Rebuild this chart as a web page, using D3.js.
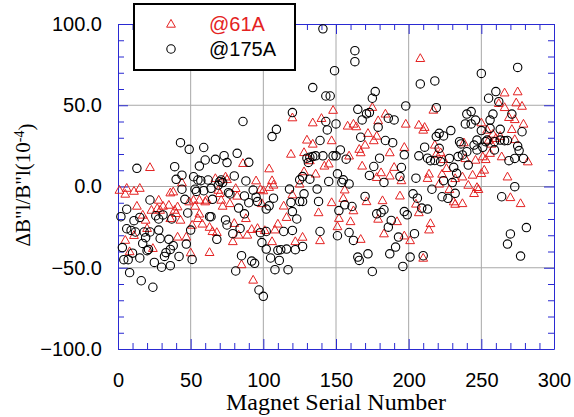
<!DOCTYPE html>
<html>
<head>
<meta charset="utf-8">
<script src="https://cdn.jsdelivr.net/npm/d3@7"></script>
<style>
  body { margin: 0; background: #fff; }
  svg text { font-family: "Liberation Sans", Arial, sans-serif; }
</style>
</head>
<body>
<svg id="chart" width="574" height="417"></svg>
<script>
// ---- data (serial number, deviation in 1e-4) ----
const serial61 = [1,5,5,6,8,11,11,13,15,17,19,20,22,23,24,27,28,29,31,35,36,36,38,39,40,41,41,43,44,47,49,50,51,52,53,55,56,56,58,60,61,63,63,65,67,68,69,70,71,72,74,75,77,79,80,81,82,83,85,86,88,89,92,93,95,96,98,99,
  100,101,104,104,106,106,107,108,110,114,116,119,120,120,122,125,127,128,128,130,132,134,134,136,138,139,140,142,145,147,147,148,
  151,152,155,156,158,159,160,162,162,164,166,167,167,168,170,171,172,175,176,178,178,179,179,181,182,183,184,187,187,190,192,194,195,197,197,198,
  201,205,207,207,208,210,210,211,213,214,214,215,217,218,219,221,222,223,224,226,228,231,232,232,237,237,238,239,241,244,245,246,247,248,250,250,
  251,252,253,254,255,256,257,258,260,262,263,264,266,266,268,269,270,271,273,273,274,275,277,278,279,282];
const dev61 = [-2.2,-4.6,-33,-1,-40,-2.8,-30,-12,-1,-17.5,-20.6,-25.7,11.8,-14.5,-38,-13.4,-8.3,-14.5,-12,-11.4,-19.6,-3.8,-3.2,-14.5,-16.5,-12.4,-31,-20.6,2.4,-31,-9.3,-40.7,-23.7,-8.3,-12,-19.6,-16.8,-8.3,-23,-9.3,-8.3,-40.5,-25,-27.6,5,-28.2,-2.2,-4.2,-8.3,-12,6,4.4,-10.4,-33.8,-22.6,-1.1,-5.8,-29.8,-48,14.3,-19.6,-29.8,-26.3,-57.5,3.6,-25.7,-1.7,-10.4,
  -2.5,-27,11,-0.4,-33.8,3.7,1,-26.6,-23,-11.9,-18.9,20,42.4,-5,-33.8,1.6,-31.1,21,9.2,28.7,16,26.2,39.3,7.8,-16,-33.2,42,12.7,14,28.3,-9.8,47,
  -24.6,-19.5,-7.2,-2,37.3,18.9,-21.5,-14.8,38.5,36.9,23,-32.4,20.9,12.7,25.6,-9.2,32.8,48.8,28.3,31.1,5.7,-20,40.6,8.6,-8.6,-29,44.7,20.9,6.6,11.9,-21.5,-5.7,3.7,24.2,-30.3,38.5,
  -33.2,-10.7,-16,37.9,78.9,34.8,-44,36.5,5.1,7.8,-26.6,-22.7,47.1,25.6,20,1.6,20.9,7.7,16.7,11.2,-1.7,-9.3,-10.8,5,6,-10.4,27,17.3,0.9,7.1,-4.2,16.3,-0.5,-1.7,8.1,39.3,
  18.4,10.2,16.7,34.8,28.6,20.5,26.2,32.3,29.7,51.2,31,18.4,57.7,48.7,6,42.6,-6.7,35.2,29,41.3,51.6,58.4,-10.4,49.5,38.5,15.3];

const serial175 = [2,3,4,6,6,7,8,9,10,11,12,13,15,15,16,17,18,19,20,21,22,22,24,25,26,28,28,29,30,31,32,33,35,36,36,37,38,39,40,42,43,44,44,46,47,48,49,50,
  51,52,53,54,55,56,57,59,59,60,62,63,64,64,65,67,68,69,70,71,72,73,74,75,75,76,77,79,80,81,82,83,84,85,86,87,87,88,90,90,92,93,94,95,96,97,98,99,
  100,102,102,102,104,105,106,107,108,109,110,111,112,114,116,117,118,119,120,120,120,122,123,125,125,127,127,127,128,130,131,132,132,134,134,136,137,138,139,139,141,141,143,143,144,145,146,148,
  149,150,150,151,151,152,153,154,155,156,157,159,159,161,162,163,163,165,165,166,167,168,170,171,172,173,173,175,175,176,177,178,179,180,181,183,183,184,186,186,187,188,189,190,191,193,194,195,196,197,197,198,199,
  201,203,204,205,206,207,208,209,210,211,213,213,215,216,218,218,219,219,221,221,222,223,224,224,227,228,229,230,231,232,233,234,235,236,237,239,240,240,241,243,243,245,246,247,247,
  250,250,251,253,254,255,256,256,258,259,259,260,262,263,263,264,266,268,268,269,270,271,273,273,275,275,276,277,278,279,281];
const dev175 = [-18.6,-37.6,-45,-26,-14,-45,-53,-27,-41,-21,-28,11.2,-44,-19,-58,-35,-28,-31.5,-39.5,-38.7,-8.3,-28,-62,-46.7,-18,-26.8,-20,-32,-49.7,-17.5,-43,-40.7,-32.5,-48.7,-38.7,-20,-36.4,12.2,4.4,-43,27,7,-1.7,-7.9,-35.4,-16.3,22.9,-26.8,
  -44.9,6,-1.7,-3,4,12.6,3.6,-2.6,24,16.3,4,-18.6,-1.1,-18.6,-7.9,16.7,-32.5,0.9,3,4,2.4,19,-20.6,14.7,-23.7,-3.8,-4.6,-29,6.5,-52,20.4,-13.3,-25.8,-42.6,40,-5.8,-16.8,3.4,-10,14.9,-45.9,-2.2,-47.3,-6.6,-9.3,-63.7,-28.4,-34.5,
  -67.6,-13.9,-27.7,-38.5,-11.9,-44,30.7,-7.2,-51.2,35.2,-39.3,-45.5,-38.9,-27.7,-38.5,-51.2,-1.6,-9.8,45.5,-15.4,-27,-38.9,-20,4.1,-9.2,6.1,-36.9,-9.2,-4.5,17.4,14.8,18,4.5,18.4,60.9,18.9,-1.6,-9.2,28.3,-27.7,97,18.9,40,55.7,34.8,3.1,55.7,18.9,
  71.3,38.5,18.9,7.8,-30.3,-14.8,22.5,2.5,4.1,-11.3,16.8,1.6,-28.3,-12.3,-33.2,83.6,76.8,47.5,-43.4,-45.5,30.3,41,-6.1,44.7,-41.4,45.5,6.8,54.3,-52.3,12.3,58.4,-16.8,36.5,17.4,-16,2.5,-14.3,28.3,42,-25,-41.4,-20.9,27,41,-37.3,-31.1,6.1,11.7,-49.2,19.5,-15.4,49.6,-17.4,
  -43.4,-4.5,-29,5.1,-7.2,18.9,63.1,-13.3,-42.6,24.2,17.4,-13.9,15.9,-1.7,65,16,48.5,30.7,23.5,32.7,15.3,-6.3,31.1,3.6,-7.3,17.3,34.4,2.4,11.8,-4.2,8.1,18.4,27.6,26.2,19.4,38.5,44.6,21.4,13.2,46.1,38.5,25.5,40.9,28.6,22.5,
  34.4,69.6,24.1,27.6,28.6,54.3,35.8,40.9,44.6,27.6,22.5,58.4,52.2,35.2,28.6,-6.3,28.2,28.3,-35.4,15.9,-29.2,44.6,-0.1,17.3,73.3,24.9,22.1,-42.8,33.7,17.3,-25.3];

const xTicks = [0, 50, 100, 150, 200, 250, 300];
const yTicks = [-100, -50, 0, 50, 100];
const seriesNames = ["@61A", "@175A"];

// ---- layout ----
const plotLeft = 118, plotRight = 554, plotTop = 24, plotBottom = 349;
const red = "#e42222", blue = "#2a2ad2", grid = "#a8a8a8";

const svg = d3.select("#chart");
const x = d3.scaleLinear().domain([0, 300]).range([plotLeft, plotRight]);
const y = d3.scaleLinear().domain([-100, 100]).range([plotBottom, plotTop]);

const minorX = d3.range(0, 301, 10).filter(d => d % 50 !== 0);
const minorY = d3.range(-100, 101, 10).filter(d => d % 50 !== 0);

// grid
svg.append("g").selectAll("line")
  .data(xTicks.slice(1, -1))
  .enter().append("line")
  .attr("x1", d => x(d)).attr("x2", d => x(d))
  .attr("y1", plotTop).attr("y2", plotBottom)
  .attr("stroke", grid).attr("stroke-width", 1);
svg.append("g").selectAll("line")
  .data(yTicks.slice(1, -1))
  .enter().append("line")
  .attr("x1", plotLeft).attr("x2", plotRight)
  .attr("y1", d => y(d)).attr("y2", d => y(d))
  .attr("stroke", grid).attr("stroke-width", 1);

// axes: labelled bottom/left, bare ticks on top/right
const fmt = d3.format(".1f");
function styleAxis(g) {
  g.selectAll("path, line").attr("stroke", blue);
  g.selectAll("text").attr("fill", "#000").attr("font-size", 20)
    .attr("font-family", "Liberation Sans, Arial, sans-serif");
}
svg.append("g").attr("transform", `translate(0,${plotBottom})`)
  .call(d3.axisBottom(x).tickValues(xTicks).tickSize(-10).tickSizeOuter(0).tickPadding(24))
  .call(styleAxis);
svg.append("g").attr("transform", `translate(0,${plotBottom})`)
  .call(d3.axisBottom(x).tickValues(minorX).tickSize(-6).tickFormat(""))
  .call(g => g.select(".domain").remove()).call(styleAxis);
svg.append("g").attr("transform", `translate(${plotLeft},0)`)
  .call(d3.axisLeft(y).tickValues(yTicks).tickSize(-10).tickSizeOuter(0).tickPadding(16).tickFormat(fmt))
  .call(styleAxis);
svg.append("g").attr("transform", `translate(${plotLeft},0)`)
  .call(d3.axisLeft(y).tickValues(minorY).tickSize(-6).tickFormat(""))
  .call(g => g.select(".domain").remove()).call(styleAxis);
svg.append("g").attr("transform", `translate(0,${plotTop})`)
  .call(d3.axisTop(x).tickValues(xTicks).tickSize(-10).tickSizeOuter(0).tickFormat(""))
  .call(styleAxis);
svg.append("g").attr("transform", `translate(0,${plotTop})`)
  .call(d3.axisTop(x).tickValues(minorX).tickSize(-6).tickFormat(""))
  .call(g => g.select(".domain").remove()).call(styleAxis);
svg.append("g").attr("transform", `translate(${plotRight},0)`)
  .call(d3.axisRight(y).tickValues(yTicks).tickSize(-10).tickSizeOuter(0).tickFormat(""))
  .call(styleAxis);
svg.append("g").attr("transform", `translate(${plotRight},0)`)
  .call(d3.axisRight(y).tickValues(minorY).tickSize(-6).tickFormat(""))
  .call(g => g.select(".domain").remove()).call(styleAxis);

// markers
const tri = "M0,-4.6L4.4,3.2L-4.4,3.2Z";
svg.append("g").selectAll("path")
  .data(serial61.map((s, i) => [s, dev61[i]]))
  .enter().append("path")
  .attr("d", tri)
  .attr("transform", d => `translate(${x(d[0])},${y(d[1])})`)
  .attr("fill", "none").attr("stroke", red).attr("stroke-width", 1);
svg.append("g").selectAll("circle")
  .data(serial175.map((s, i) => [s, dev175[i]]))
  .enter().append("circle")
  .attr("cx", d => x(d[0])).attr("cy", d => y(d[1]))
  .attr("r", 4.2)
  .attr("fill", "none").attr("stroke", "#000").attr("stroke-width", 1.1);

// legend
const lg = svg.append("g");
lg.append("rect").attr("x", 134).attr("y", 4).attr("width", 161).attr("height", 66)
  .attr("fill", "#fff").attr("stroke", "#000").attr("stroke-width", 2);
lg.append("path").attr("d", tri).attr("transform", "translate(171,24)")
  .attr("fill", "none").attr("stroke", red).attr("stroke-width", 1);
lg.append("circle").attr("cx", 171).attr("cy", 49).attr("r", 4.2)
  .attr("fill", "none").attr("stroke", "#000").attr("stroke-width", 1.1);
lg.append("text").attr("x", 209).attr("y", 31).attr("font-size", 20).attr("fill", red).text(seriesNames[0]);
lg.append("text").attr("x", 209).attr("y", 56).attr("font-size", 20).attr("fill", "#000").text(seriesNames[1]);

// titles
svg.append("text")
  .attr("x", (plotLeft + plotRight) / 2).attr("y", 410)
  .attr("text-anchor", "middle")
  .style("font-family", "'Liberation Serif', 'Times New Roman', serif")
  .attr("font-size", 24)
  .text("Magnet Serial Number");

const yt = svg.append("text")
  .attr("transform", "translate(30,185) rotate(-90)")
  .attr("text-anchor", "middle")
  .style("font-family", "'Liberation Serif', 'Times New Roman', serif")
  .attr("font-size", 21);
yt.append("tspan").text("\u0394B\"l/B\"l(10");
yt.append("tspan").attr("dy", "-0.45em").attr("font-size", 14).text("-4");
yt.append("tspan").attr("dy", "0.45em").text(")");
</script>
</body>
</html>
